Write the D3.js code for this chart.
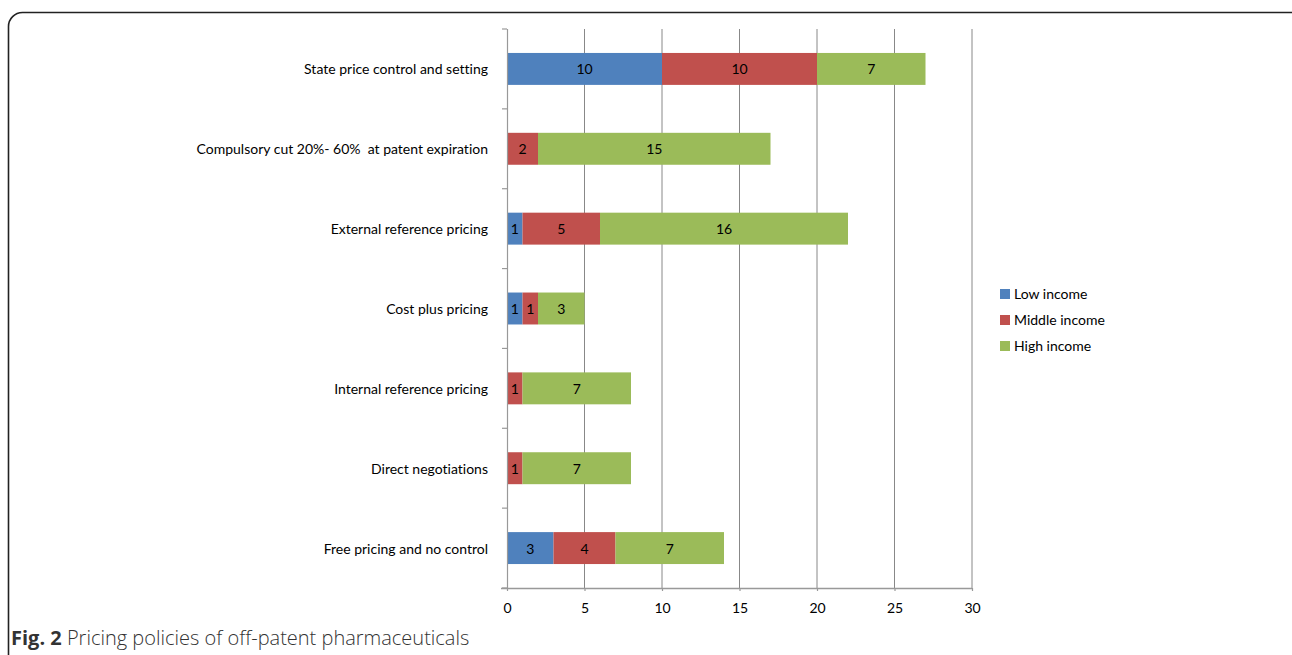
<!DOCTYPE html>
<html><head><meta charset="utf-8">
<script src="https://cdn.jsdelivr.net/npm/d3@7/dist/d3.min.js"></script>
<style>
html,body{margin:0;padding:0;background:#fff;}
svg{display:block;}
text{white-space:pre;font-variant-ligatures:none;font-feature-settings:"liga" 0;}
</style></head>
<body>
<svg id="c" width="1292" height="655"></svg>
<script>
const categories = [
  "State price control and setting",
  "Compulsory cut 20%- 60%  at patent expiration",
  "External reference pricing",
  "Cost plus pricing",
  "Internal reference pricing",
  "Direct negotiations",
  "Free pricing and no control"
];
const seriesNames = ["Low income", "Middle income", "High income"];
const lowIncome    = [10, 0, 1, 1, 0, 0, 3];
const middleIncome = [10, 2, 5, 1, 1, 1, 4];
const highIncome   = [7, 15, 16, 3, 7, 7, 7];
const xTicks = [0, 5, 10, 15, 20, 25, 30];
const colors = ["#4F81BD", "#C0504D", "#9BBB59"];

(function () {
const svg = d3.select("#c");
const font = "Lato, 'Liberation Sans', sans-serif";
const fs = 14;

// frame
svg.append("rect").attr("x", 8.5).attr("y", 12.5).attr("width", 1300).attr("height", 720)
  .attr("rx", 14).attr("fill", "none").attr("stroke", "#222").attr("stroke-width", 1.6);

const pl = 507, pr = 972, pt = 29, pb = 588;
const x = d3.scaleLinear().domain([0, 30]).range([pl, pr]);
const y = d3.scaleBand().domain(categories).range([pt, pb]).paddingInner(0.6).paddingOuter(0.3);

// gridlines
svg.append("g").selectAll("line").data(xTicks.slice(1)).join("line")
  .attr("x1", d => x(d)).attr("x2", d => x(d)).attr("y1", pt).attr("y2", pb)
  .attr("stroke", "#888").attr("stroke-width", 1);

// stacked data
const rows = categories.map((c, i) => ({cat: c, "Low income": lowIncome[i], "Middle income": middleIncome[i], "High income": highIncome[i]}));
const stack = d3.stack().keys(seriesNames)(rows);

const g = svg.append("g");
stack.forEach((s, si) => {
  g.selectAll(null).data(s).join("rect")
    .attr("x", d => x(d[0])).attr("y", d => y(d.data.cat))
    .attr("width", d => x(d[1]) - x(d[0])).attr("height", y.bandwidth())
    .attr("fill", colors[si]);
  g.selectAll(null).data(s.filter(d => d[1] - d[0] > 0)).join("text")
    .attr("x", d => (x(d[0]) + x(d[1])) / 2).attr("y", d => y(d.data.cat) + y.bandwidth() / 2)
    .attr("text-anchor", "middle").attr("dominant-baseline", "central")
    .attr("font-family", font).attr("font-size", fs).attr("fill", "#000")
    .text(d => d[1] - d[0]);
});

// y axis
const yLine = svg.append("g");
yLine.append("line").attr("x1", pl + 0.5).attr("x2", pl + 0.5).attr("y1", pt).attr("y2", pb)
  .attr("stroke", "#999").attr("stroke-width", 1.2);
const bounds = d3.range(categories.length + 1).map(i => pt + i * (pb - pt) / categories.length);
yLine.selectAll(null).data(bounds).join("line")
  .attr("x1", pl - 5).attr("x2", pl).attr("y1", d => d).attr("y2", d => d)
  .attr("stroke", "#999").attr("stroke-width", 1.2);
yLine.selectAll(null).data(categories).join("text")
  .attr("x", 488).attr("y", d => y(d) + y.bandwidth() / 2)
  .attr("text-anchor", "end").attr("dominant-baseline", "central")
  .attr("font-family", font).attr("font-size", fs).attr("fill", "#000")
  .text(d => d);

// x axis
const xa = svg.append("g").attr("transform", `translate(0,${pb})`)
  .call(d3.axisBottom(x).tickValues(xTicks).tickSize(3).tickPadding(12).tickSizeOuter(0));
xa.select(".domain").attr("stroke", "#999").attr("stroke-width", 1.5)
  .attr("d", `M${pl - 6},0.5H${pr}`);
xa.selectAll(".tick line").attr("stroke", "#999").attr("stroke-width", 1.2);
xa.selectAll(".tick text").attr("font-family", font).attr("font-size", fs).attr("fill", "#000");

// legend
const lg = svg.append("g");
seriesNames.forEach((n, i) => {
  const yy = 294 + i * 26;
  lg.append("rect").attr("x", 1000).attr("y", yy - 5).attr("width", 10).attr("height", 10).attr("fill", colors[i]);
  lg.append("text").attr("x", 1014).attr("y", yy - 0.5).attr("dominant-baseline", "central")
    .attr("font-family", font).attr("font-size", fs).attr("fill", "#000").text(n);
});

// caption
const cap = svg.append("text").attr("x", 11).attr("y", 645)
  .attr("font-family", "'Open Sans', sans-serif").attr("font-size", 20).attr("fill", "#333");
cap.append("tspan").attr("font-weight", "bold").text("Fig. 2");
cap.append("tspan").attr("font-weight", 300).text(" Pricing policies of off-patent pharmaceuticals");
})();
</script>
</body></html>
